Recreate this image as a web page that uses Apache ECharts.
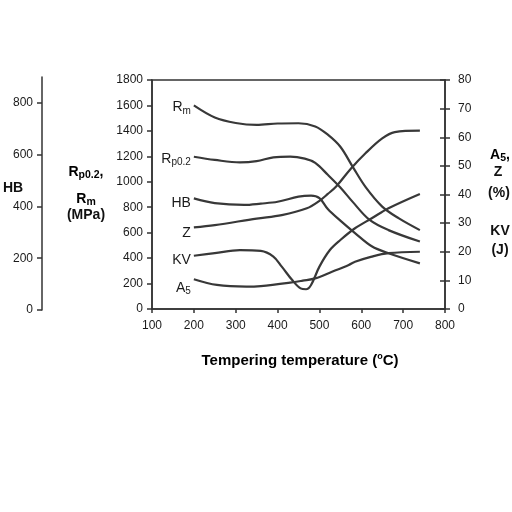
<!DOCTYPE html>
<html><head><meta charset="utf-8">
<script src="https://cdn.jsdelivr.net/npm/echarts@6/dist/echarts.min.js"></script>
<style>html,body{margin:0;padding:0;background:#fff}#c{width:512px;height:512px}</style>
</head><body><div id="c"></div>
<script>
// ---- data ----
const hbTicks = [0, 200, 400, 600, 800];
const rmT  = [200, 250, 300, 350, 400, 450, 490, 520, 550, 580, 610, 650, 690, 740];
const rmV  = [1600, 1505, 1462, 1447, 1458, 1460, 1435, 1370, 1275, 1115, 960, 805, 712, 620];
const rpT  = [200, 250, 310, 350, 390, 430, 465, 490, 520, 550, 580, 620, 665, 740];
const rpV  = [1197, 1172, 1152, 1162, 1192, 1198, 1182, 1148, 1055, 955, 840, 700, 620, 530];
const hbT  = [200, 250, 320, 360, 400, 450, 480, 500, 520, 550, 585, 625, 665, 740];
const hbV  = [431, 413, 406, 411, 418, 438, 442, 432, 390, 345, 297, 246, 219, 180];
const zT   = [200, 250, 350, 410, 470, 500, 520, 540, 575, 610, 650, 680, 740];
const zV   = [28.5, 29.3, 31.6, 32.8, 35.2, 37.8, 40.2, 42.8, 49, 54.4, 59.6, 61.8, 62.3];
const kvT  = [200, 250, 310, 360, 390, 410, 435, 455, 468, 480, 500, 525, 550, 585, 625, 665, 740];
const kvV  = [18.6, 19.5, 20.6, 20.3, 18.3, 14.8, 10.1, 7.2, 6.9, 8.4, 14.8, 20.6, 24.1, 28.2, 31.7, 35.2, 40.2];
const a5T  = [200, 255, 325, 360, 430, 460, 490, 530, 570, 585, 625, 665, 740];
const a5V  = [10.4, 8.4, 7.8, 8.0, 9.2, 9.9, 10.7, 13.0, 15.4, 16.5, 18.3, 19.5, 20.0];

const FONT = 'Liberation Sans, Arial, sans-serif';
const INK = '#1a1a1a';
const lineColor = '#383838';
const richLbl = {
  n: {fontSize: 14, fontFamily: FONT, color: INK},
  s: {fontSize: 10, fontFamily: FONT, color: INK, padding: [7, 0, 0, 0]}
};
const richBold = {
  n: {fontSize: 14, fontWeight: 'bold', fontFamily: FONT, color: '#111'},
  s: {fontSize: 10.5, fontWeight: 'bold', fontFamily: FONT, color: '#111', padding: [6, 0, 0, 0]}
};

function mk(T, V, text, xi, yi, dy) {
  return {
    type: 'line', xAxisIndex: xi, yAxisIndex: yi,
    smooth: 0.35, symbol: 'circle', symbolSize: 0, showSymbol: true, showAllSymbol: true,
    lineStyle: {color: lineColor, width: 2.2}, itemStyle: {color: lineColor},
    emphasis: {disabled: true},
    data: T.map((t, i) => i === 0
      ? {value: [t, V[i]], label: {show: true, position: 'left', distance: 3, offset: [0, dy],
          formatter: text, rich: richLbl}}
      : [t, V[i]])
  };
}

const axisLineStyle = {color: '#333', width: 1.5};
const lblStyle = {fontSize: 12, color: INK, fontFamily: FONT, formatter: v => String(v)};
const boldTxt = (x, y, t) => ({type: 'text', x: x, y: y,
  style: {text: t, font: 'bold 14px ' + FONT, fill: '#111', align: 'center', verticalAlign: 'middle'}});

const chart = echarts.init(document.getElementById('c'));
chart.setOption({
  animation: false,
  backgroundColor: '#fff',
  grid: [
    {left: 152, right: 67, top: 80, bottom: 203, show: true, borderColor: '#333', borderWidth: 1.5},
    {left: 152, right: 67, top: 77, bottom: 202, show: false}
  ],
  xAxis: [
    {gridIndex: 0, type: 'value', min: 100, max: 800, interval: 100,
     axisLine: {lineStyle: axisLineStyle}, axisTick: {length: 4, lineStyle: axisLineStyle},
     axisLabel: Object.assign({}, lblStyle, {margin: 11}), splitLine: {show: false}},
    {gridIndex: 1, type: 'value', min: 100, max: 800, show: false}
  ],
  yAxis: [
    {gridIndex: 0, type: 'value', position: 'left', min: 0, max: 1800, interval: 200,
     axisLine: {show: true, lineStyle: axisLineStyle}, axisTick: {show: true, length: 5, lineStyle: axisLineStyle},
     axisLabel: Object.assign({}, lblStyle, {margin: 9}), splitLine: {show: false}},
    {gridIndex: 0, type: 'value', position: 'right', min: 0, max: 80, interval: 10,
     axisLine: {show: true, lineStyle: axisLineStyle}, axisTick: {show: true, length: 5, lineStyle: axisLineStyle},
     axisLabel: Object.assign({}, lblStyle, {margin: 13}), splitLine: {show: false}},
    {gridIndex: 0, type: 'value', position: 'right', min: 0, max: 80, interval: 10,
     axisLine: {show: false}, axisTick: {show: true, inside: true, length: 5, lineStyle: axisLineStyle},
     axisLabel: {show: false}, splitLine: {show: false}},
    {gridIndex: 1, type: 'value', position: 'left', offset: 110, min: 0, max: 900,
     axisLine: {show: true, lineStyle: axisLineStyle},
     axisTick: {show: true, length: 5, lineStyle: axisLineStyle, customValues: hbTicks},
     axisLabel: Object.assign({}, lblStyle, {margin: 9, customValues: hbTicks}), splitLine: {show: false}}
  ],
  series: [
    mk(rmT, rmV, '{n|R}{s|m}', 0, 0, 2),
    mk(rpT, rpV, '{n|R}{s|p0.2}', 0, 0, 2),
    mk(hbT, hbV, '{n|HB}', 1, 3, 5),
    mk(zT, zV, '{n|Z}', 0, 1, 6),
    mk(kvT, kvV, '{n|KV}', 0, 1, 4),
    mk(a5T, a5V, '{n|A}{s|5}', 0, 1, 9)
  ],
  graphic: [
    boldTxt(13, 188, 'HB'),
    {type: 'text', x: 86, y: 172, style: {text: '{n|R}{s|p0.2}{n|,}', rich: richBold, align: 'center', verticalAlign: 'middle'}},
    {type: 'text', x: 86, y: 199, style: {text: '{n|R}{s|m}', rich: richBold, align: 'center', verticalAlign: 'middle'}},
    boldTxt(86, 215, '(MPa)'),
    {type: 'text', x: 500, y: 155, style: {text: '{n|A}{s|5}{n|,}', rich: richBold, align: 'center', verticalAlign: 'middle'}},
    boldTxt(498, 172, 'Z'),
    boldTxt(499, 193, '(%)'),
    boldTxt(500, 231, 'KV'),
    boldTxt(500, 250, '(J)'),
    {type: 'text', x: 300, y: 361, style: {
      text: '{t|Tempering temperature (}{o|o}{t|C)}',
      rich: {t: {fontSize: 15, fontWeight: 'bold', fontFamily: FONT, color: '#111'},
             o: {fontSize: 9, fontWeight: 'bold', fontFamily: FONT, color: '#111', padding: [0, 0, 8, 0]}},
      align: 'center', verticalAlign: 'middle'}}
  ]
});
</script>
</body></html>
